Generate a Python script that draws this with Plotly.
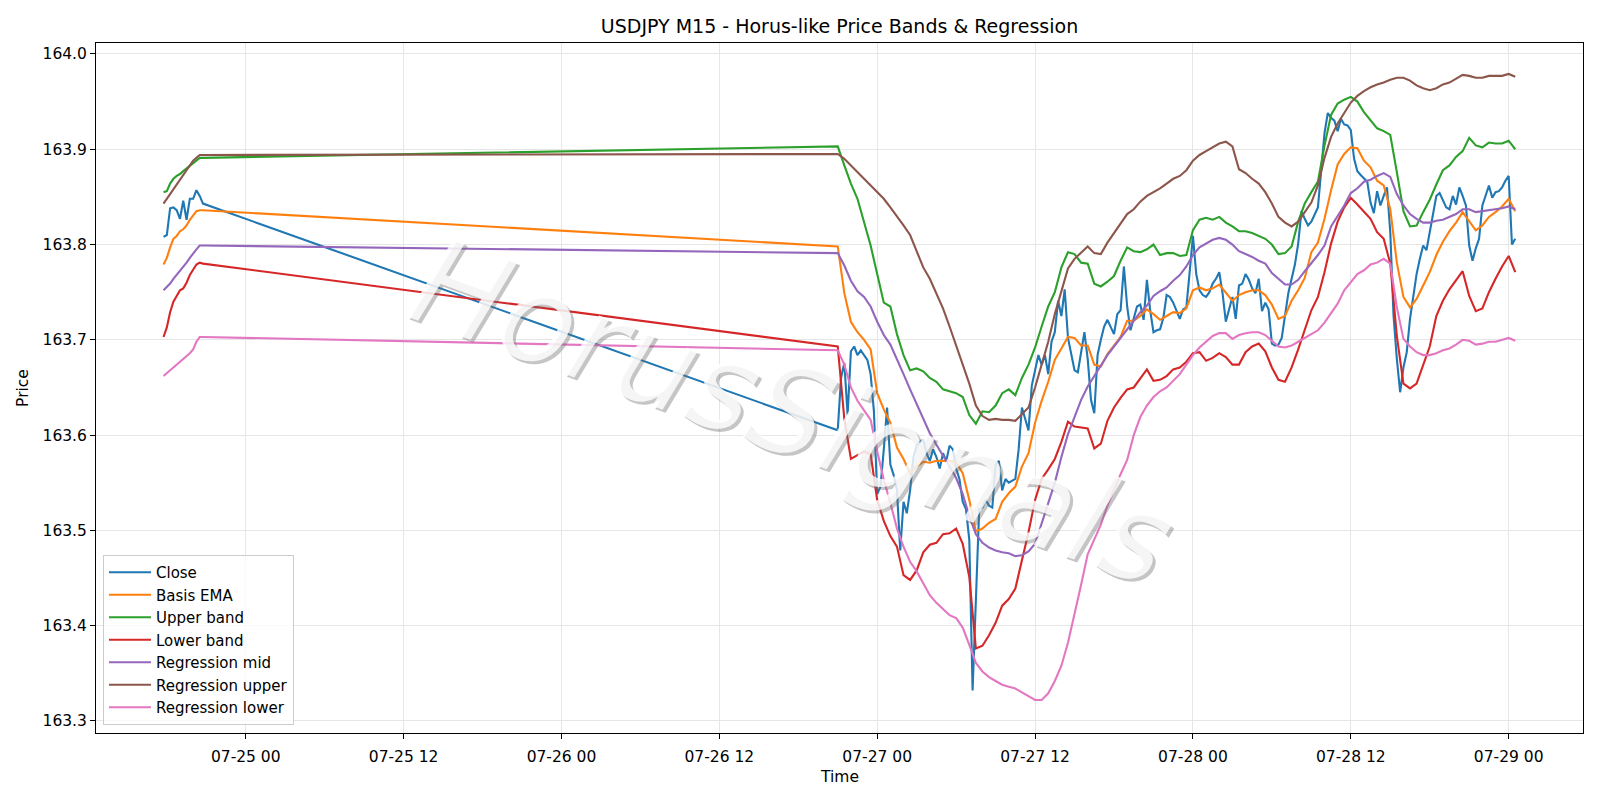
import pandas as pd
import plotly.graph_objects as go

# ---------------- time axes ----------------
t_seg1 = pd.date_range("2025-07-24 17:45", "2025-07-24 20:45", freq="15min")      # 13 bars
t_close2 = pd.date_range("2025-07-26 21:00", "2025-07-29 00:30", freq="15min")    # 207 bars
t_band2 = pd.date_range("2025-07-26 21:00", "2025-07-29 00:30", freq="30min")     # 104 samples

# ---------------- segment 1 (07-24 evening) ----------------
close_seg1 = [163.808, 163.810, 163.838, 163.839, 163.836, 163.827, 163.846, 163.826, 163.848, 163.848, 163.857, 163.851, 163.843]
ema_seg1 = [163.779, 163.786, 163.797, 163.806, 163.809, 163.814, 163.816, 163.820, 163.826, 163.831, 163.835, 163.836, 163.836]
upper_seg1 = [163.855, 163.856, 163.864, 163.869, 163.872, 163.874, 163.877, 163.880, 163.883, 163.886, 163.889, 163.891, 163.891]
lower_seg1 = [163.703, 163.713, 163.729, 163.740, 163.746, 163.752, 163.754, 163.760, 163.768, 163.774, 163.779, 163.781, 163.780]
regmid_seg1 = [163.752, 163.755, 163.759, 163.764, 163.768, 163.772, 163.776, 163.781, 163.786, 163.791, 163.795, 163.799, 163.799]
regup_seg1 = [163.843, 163.848, 163.853, 163.859, 163.864, 163.869, 163.874, 163.879, 163.884, 163.888, 163.891, 163.894, 163.894]
reglow_seg1 = [163.662, 163.665, 163.668, 163.671, 163.674, 163.677, 163.679, 163.682, 163.686, 163.690, 163.698, 163.703, 163.703]

# ---------------- segment 2 close (15 min) ----------------
close_seg2 = [
    163.605, 163.660, 163.676, 163.621, 163.688, 163.693, 163.684, 163.689, 163.684, 163.679,
    163.664, 163.625, 163.538, 163.546, 163.585, 163.629, 163.569, 163.558, 163.542, 163.479,
    163.530, 163.518, 163.542, 163.577, 163.589, 163.593, 163.595, 163.581, 163.573, 163.585,
    163.577, 163.565, 163.581, 163.573, 163.589, 163.585, 163.565, 163.554, 163.530, 163.522,
    163.490, 163.332, 163.427, 163.522, 163.524, 163.532, 163.526, 163.524, 163.569, 163.573,
    163.542, 163.554, 163.550,
    163.552, 163.554, 163.585, 163.629, 163.617, 163.605, 163.652, 163.668, 163.684, 163.674,
    163.684, 163.664, 163.698, 163.708, 163.741, 163.725, 163.753, 163.702, 163.684, 163.668,
    163.666, 163.688, 163.708, 163.680, 163.637, 163.623, 163.684, 163.700, 163.714, 163.721,
    163.714, 163.706, 163.727, 163.731, 163.777, 163.735, 163.710, 163.723, 163.735, 163.737,
    163.721, 163.763, 163.731, 163.708, 163.710, 163.711, 163.723, 163.747, 163.745, 163.739,
    163.731, 163.722,
    163.732, 163.734, 163.771, 163.809, 163.769, 163.752, 163.747, 163.745, 163.750, 163.759,
    163.764, 163.771, 163.749, 163.719, 163.732, 163.745, 163.722, 163.757, 163.759, 163.769,
    163.763, 163.754, 163.749, 163.764, 163.730, 163.739, 163.732, 163.696, 163.694, 163.695,
    163.702, 163.726, 163.749, 163.764, 163.779, 163.801, 163.835, 163.827, 163.820, 163.824,
    163.831, 163.839, 163.878, 163.917, 163.938, 163.933, 163.930, 163.919, 163.932,
    163.926, 163.925, 163.920, 163.890, 163.877, 163.873, 163.870, 163.866, 163.844, 163.833,
    163.856, 163.841, 163.851, 163.860, 163.813, 163.725, 163.680, 163.645, 163.671, 163.687,
    163.722, 163.744, 163.769, 163.785, 163.799, 163.794, 163.813, 163.832, 163.851, 163.854,
    163.846, 163.839, 163.837, 163.851, 163.842, 163.860, 163.851, 163.841, 163.799, 163.783,
    163.796, 163.806, 163.841, 163.851, 163.862, 163.849, 163.855, 163.856, 163.860, 163.867,
    163.872, 163.800, 163.806,
]

# ---------------- segment 2 bands (30 min) ----------------
upper_seg2 = [
    163.903, 163.883, 163.864, 163.848, 163.822, 163.799, 163.769, 163.739,
    163.735, 163.706, 163.684, 163.668, 163.670, 163.667, 163.660, 163.656,
    163.648, 163.646, 163.644, 163.640, 163.621, 163.612, 163.625, 163.624,
    163.631, 163.644, 163.648, 163.642, 163.660, 163.674, 163.692, 163.714,
    163.735, 163.750, 163.776, 163.792, 163.790, 163.781, 163.780, 163.759,
    163.756, 163.761, 163.767, 163.783, 163.797, 163.793, 163.792, 163.795,
    163.800, 163.789, 163.791, 163.791, 163.788, 163.789, 163.815, 163.826,
    163.828, 163.826, 163.829, 163.823, 163.819, 163.814, 163.814, 163.812,
    163.809, 163.806, 163.800, 163.790, 163.791, 163.798, 163.824, 163.843,
    163.855, 163.866, 163.904, 163.936, 163.948, 163.952, 163.955, 163.950,
    163.939, 163.931, 163.922, 163.919, 163.915, 163.876, 163.835, 163.819,
    163.820, 163.834, 163.847, 163.863, 163.878, 163.883, 163.892, 163.898,
    163.912, 163.904, 163.902, 163.907, 163.906, 163.906, 163.909, 163.900,
]
regup_seg2 = [
    163.895, 163.890, 163.883, 163.875, 163.869, 163.862, 163.855, 163.848,
    163.839, 163.830, 163.820, 163.810, 163.793, 163.776, 163.764, 163.748,
    163.733, 163.714, 163.694, 163.674, 163.654, 163.631, 163.620, 163.616,
    163.617, 163.616, 163.616, 163.615, 163.622, 163.629, 163.650, 163.675,
    163.698, 163.727, 163.750, 163.775, 163.785, 163.791, 163.798, 163.791,
    163.790, 163.802, 163.812, 163.822, 163.832, 163.837, 163.845, 163.851,
    163.855, 163.859, 163.864, 163.869, 163.872, 163.878, 163.888, 163.894,
    163.898, 163.902, 163.906, 163.908, 163.903, 163.879, 163.875, 163.869,
    163.864, 163.855, 163.843, 163.829, 163.823, 163.819, 163.824, 163.834,
    163.844, 163.862, 163.891, 163.913, 163.927, 163.938, 163.949, 163.956,
    163.961, 163.965, 163.968, 163.970, 163.973, 163.975, 163.975, 163.972,
    163.967, 163.964, 163.962, 163.964, 163.968, 163.970, 163.974, 163.978,
    163.977, 163.975, 163.975, 163.977, 163.977, 163.977, 163.979, 163.976,
]
ema_seg2 = [
    163.798, 163.749, 163.719, 163.708, 163.700, 163.690, 163.644, 163.627,
    163.613, 163.587, 163.575, 163.560, 163.567, 163.572, 163.571, 163.573,
    163.573, 163.573, 163.571, 163.560, 163.532, 163.499, 163.502, 163.508,
    163.512, 163.530, 163.539, 163.546, 163.567, 163.581, 163.613, 163.636,
    163.656, 163.679, 163.691, 163.703, 163.702, 163.694, 163.694, 163.674,
    163.672, 163.685, 163.694, 163.703, 163.720, 163.720, 163.725, 163.732,
    163.727, 163.721, 163.725, 163.729, 163.728, 163.733, 163.752, 163.755,
    163.752, 163.754, 163.758, 163.749, 163.741, 163.747, 163.750, 163.752,
    163.752, 163.747, 163.737, 163.722, 163.725, 163.741, 163.752, 163.765,
    163.792, 163.802, 163.827, 163.857, 163.884, 163.895, 163.902, 163.901,
    163.888, 163.881, 163.867, 163.862, 163.837, 163.781, 163.745, 163.734,
    163.743, 163.757, 163.771, 163.789, 163.803, 163.814, 163.823, 163.834,
    163.824, 163.815, 163.820, 163.829, 163.834, 163.840, 163.848, 163.835,
]
regmid_seg2 = [
    163.791, 163.778, 163.762, 163.751, 163.745, 163.735, 163.719, 163.705,
    163.695, 163.680, 163.664, 163.648, 163.633, 163.618, 163.602, 163.590,
    163.579, 163.567, 163.555, 163.538, 163.515, 163.496, 163.487, 163.482,
    163.479, 163.477, 163.476, 163.473, 163.474, 163.478, 163.486, 163.507,
    163.530, 163.550, 163.577, 163.601, 163.619, 163.637, 163.651, 163.662,
    163.673, 163.684, 163.693, 163.702, 163.712, 163.721, 163.729, 163.736,
    163.746, 163.751, 163.755, 163.762, 163.768, 163.777, 163.789, 163.797,
    163.801, 163.805, 163.807, 163.805, 163.800, 163.793, 163.790, 163.787,
    163.783, 163.780, 163.770, 163.764, 163.758, 163.758, 163.763, 163.772,
    163.780, 163.789, 163.799, 163.819, 163.830, 163.841, 163.854, 163.859,
    163.866, 163.868, 163.872, 163.875, 163.871, 163.853, 163.841, 163.832,
    163.827, 163.823, 163.823, 163.825, 163.826, 163.829, 163.832, 163.837,
    163.837, 163.834, 163.835, 163.836, 163.837, 163.838, 163.840, 163.837,
]
lower_seg2 = [
    163.693, 163.617, 163.575, 163.579, 163.583, 163.580, 163.532, 163.510,
    163.494, 163.483, 163.453, 163.448, 163.458, 163.477, 163.485, 163.487,
    163.496, 163.497, 163.502, 163.486, 163.451, 163.376, 163.379, 163.390,
    163.403, 163.421, 163.428, 163.439, 163.467, 163.498, 163.532, 163.554,
    163.564, 163.575, 163.593, 163.614, 163.609, 163.608, 163.607, 163.586,
    163.591, 163.615, 163.629, 163.639, 163.648, 163.650, 163.660, 163.669,
    163.657, 163.658, 163.662, 163.669, 163.671, 163.677, 163.686, 163.687,
    163.678, 163.681, 163.686, 163.682, 163.674, 163.674, 163.687, 163.693,
    163.696, 163.688, 163.671, 163.658, 163.656, 163.671, 163.690, 163.710,
    163.731, 163.745, 163.771, 163.801, 163.824, 163.839, 163.849, 163.842,
    163.835, 163.827, 163.813, 163.806, 163.780, 163.704, 163.654, 163.649,
    163.654, 163.673, 163.693, 163.725, 163.741, 163.753, 163.763, 163.772,
    163.746, 163.730, 163.733, 163.750, 163.764, 163.777, 163.788, 163.771,
]
reglow_seg2 = [
    163.689, 163.674, 163.650, 163.636, 163.626, 163.616, 163.583, 163.553,
    163.529, 163.502, 163.483, 163.467, 163.457, 163.444, 163.432, 163.424,
    163.418, 163.411, 163.408, 163.398, 163.380, 163.361, 163.352, 163.346,
    163.342, 163.338, 163.336, 163.334, 163.330, 163.326, 163.322, 163.322,
    163.329, 163.342, 163.358, 163.382, 163.411, 163.443, 163.475, 163.490,
    163.506, 163.526, 163.543, 163.559, 163.574, 163.600, 163.619, 163.631,
    163.640, 163.646, 163.650, 163.657, 163.664, 163.674, 163.684, 163.692,
    163.698, 163.704, 163.707, 163.707, 163.701, 163.705, 163.707, 163.708,
    163.708, 163.705, 163.699, 163.693, 163.692, 163.694, 163.698, 163.702,
    163.706, 163.710, 163.718, 163.728, 163.738, 163.752, 163.761, 163.769,
    163.773, 163.779, 163.781, 163.785, 163.780, 163.734, 163.701, 163.693,
    163.687, 163.684, 163.684, 163.686, 163.689, 163.691, 163.695, 163.700,
    163.699, 163.695, 163.696, 163.698, 163.698, 163.700, 163.702, 163.699,
]

series_names = ["Close", "Basis EMA", "Upper band", "Lower band",
                "Regression mid", "Regression upper", "Regression lower"]
series_colors = ["#1f77b4", "#ff7f0e", "#2ca02c", "#d62728",
                 "#9467bd", "#8c564b", "#e377c2"]

x_close = list(t_seg1) + list(t_close2)
x_band = list(t_seg1) + list(t_band2)
series_values = [
    (x_close, close_seg1 + close_seg2),
    (x_band, ema_seg1 + ema_seg2),
    (x_band, upper_seg1 + upper_seg2),
    (x_band, lower_seg1 + lower_seg2),
    (x_band, regmid_seg1 + regmid_seg2),
    (x_band, regup_seg1 + regup_seg2),
    (x_band, reglow_seg1 + reglow_seg2),
]

fig = go.Figure()
for name, color, (xs, ys) in zip(series_names, series_colors, series_values):
    n = min(len(xs), len(ys))
    fig.add_trace(go.Scatter(x=xs[:n], y=ys[:n], mode="lines", name=name,
                             line=dict(color=color, width=2.1)))

FONT = "DejaVu Sans"
# watermark (shadow + face)
for dx, dy, col in [(3, -3, "rgba(110,110,110,0.40)"), (0, 0, "rgba(255,255,255,0.82)")]:
    fig.add_annotation(text="HorusSignals", x=0.468, y=0.465, xref="paper", yref="paper",
                       xshift=dx, yshift=dy, showarrow=False, textangle=20,
                       font=dict(family=FONT, size=122, color=col, style="italic"))

# x-axis title placed as annotation for exact position
fig.add_annotation(text="Time", x=0.5, y=-0.064, xref="paper", yref="paper",
                   xanchor="center", yanchor="middle", showarrow=False,
                   font=dict(family=FONT, size=15.5, color="black"))

axis_common = dict(showline=True, mirror=True, linecolor="black", linewidth=1,
                   ticks="outside", ticklen=5, tickwidth=1, tickcolor="black",
                   showgrid=True, gridcolor="#e6e6e6", gridwidth=1, zeroline=False,
                   tickfont=dict(family=FONT, size=15.5, color="black"))

fig.update_layout(
    width=1600, height=800,
    margin=dict(l=96, r=17, t=43, b=67),
    paper_bgcolor="white", plot_bgcolor="white",
    font=dict(family=FONT, size=15.5, color="black"),
    title=dict(text="USDJPY M15 - Horus-like Price Bands & Regression",
               x=0.5, xref="paper", xanchor="center",
               y=1 - 26 / 800, yref="container", yanchor="middle",
               font=dict(family=FONT, size=19, color="black")),
    xaxis=dict(type="date", range=["2025-07-24 12:37", "2025-07-29 05:39"],
               tickformat="%m-%d %H", dtick=43200000, tick0="2025-07-25 00:00",
               ticklabelstandoff=4,
               **axis_common),
    yaxis=dict(range=[163.2874, 164.0115], dtick=0.1, tick0=163.3, tickformat=".1f",
               title=dict(text="Price", standoff=10, font=dict(family=FONT, size=15.5)),
               **axis_common),
    legend=dict(x=0.0047, y=0.0116, xanchor="left", yanchor="bottom",
                bgcolor="rgba(255,255,255,0.8)", bordercolor="#cccccc", borderwidth=1,
                itemwidth=42,
                font=dict(family=FONT, size=15, color="black")),
    showlegend=True,
)

fig.write_html("out.html")
